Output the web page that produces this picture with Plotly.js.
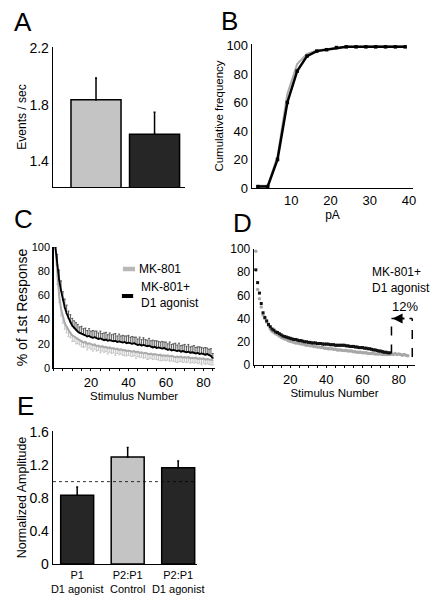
<!DOCTYPE html>
<html>
<head>
<meta charset="utf-8">
<script src="https://cdn.plot.ly/plotly-3.0.1.min.js"></script>
<style>html,body{margin:0;padding:0;background:#fff;}#plot{width:439px;height:602px;}</style>
</head>
<body>
<div id="plot"></div>
<script>
// ---- Panel A: event rate ----
const A_groups = ['MK-801', 'MK-801+D1 agonist'];
const A_rate = [1.835, 1.59];
const A_err = [0.155, 0.157];

// ---- Panel B: cumulative amplitude distribution ----
const B_pA = [1.5, 4, 6.5, 9, 11.5, 14, 16.5, 19, 21.5, 24, 26.5, 29, 31.5, 34, 36.5, 39];
const B_mk801 = [1.5, 1.5, 22, 66, 87, 94, 96.5, 97.5, 98.5, 99, 99, 99.5, 99.5, 99.5, 99.5, 99.5];
const B_mk801_d1 = [1, 1, 20, 60, 82, 92.5, 96, 97, 98.5, 99, 99, 99, 99, 99, 99, 99];

// ---- Panel C: mean % of 1st response (n = 85 stimuli) ----
const C_mk801 = [100,76,60,49,42,37,34,31,29,27, 26,25,24,23,22.5,21,21.5,20,20.5,19.5,
  19,19.5,18,18.5,17.5,18,17,17.5,16.5,17, 16,16.5,15.5,16,15,15.5,14.5,15,14,14.5,
  14,13.5,14,13,13.5,12.5,13,12,12.5,12, 11.5,12,11,11.5,11,10.5,11,10,10.5,10,
  10.5,9.5,10,9.5,9,9.5,9,9.5,8.5,9, 8.5,9,8,8.5,8,8.5,7.5,8,7.5,8, 7,7.5,7,6.5,6.5];
const C_mk801_err = [0,7,6,6,5,5,5,5,4,5, 4,5,4,4,5,4,4,5,4,4, 5,4,4,4,5,4,4,4,5,4,
  4,4,5,4,4,4,4,5,4,4, 4,4,4,5,4,4,4,4,4,5, 4,4,4,4,4,4,5,4,4,4, 4,4,4,4,4,5,4,4,4,4,
  4,4,4,4,4,4,4,4,5,4, 4,4,4,4,4];
const C_mk801_d1 = [100,85,73,64,56,50,45,41,38,35, 33,31.5,30,29,28.5,27.5,27,26,26.5,25.5,
  25,25.5,24.5,24,24.5,23.5,23,23.5,22.5,23, 22.5,22,22.5,21.5,22,21.5,21,21.5,20.5,21,
  20.5,20,20.5,19.5,19,19.5,18.5,19,18.5,18, 18.5,17.5,17,17.5,16.5,17,16.5,16,16.5,15.5,
  15,15.5,14.5,15,14.5,14,14.5,13.5,14,13.5, 13,13.5,12.5,13,12.5,12,12.5,11.5,12,11.5,
  11,11.5,10.5,10,8];
const C_mk801_d1_err = [0,9,8,8,7,7,7,6,6,6, 6,6,6,5,6,5,6,5,6,5, 6,5,6,5,6,5,6,6,5,6,
  5,6,6,5,6,5,6,5,6,6, 5,6,5,6,5,6,5,6,5,5, 6,5,6,5,6,5,5,6,5,6, 5,6,5,5,6,5,6,5,5,6,
  5,6,5,5,6,5,5,6,5,5, 6,5,5,6,4];

// ---- Panel D: example cell ----
const D_mk801 = [98,65,57,50,43,40,37,34,31,29, 28,27,26,25,24,23,22.5,22,21,20.5,
  20,19.5,19,19,18.5,18,18,17.5,17,17, 16.5,16.5,16,16,15.5,15.5,15,15,14.5,14.5,
  14,14,14,13.5,13.5,13,13,13,12.5,12.5, 12.5,12,12,12,11.5,11.5,11,11,11,10.5,
  10.5,10.5,10,10,10,10,9.5,9.5,9.5,9.5, 9,9,9,9,9,9.5,9,10,9,9.5, 9,8.5,9,8.5,8];
const D_mk801_d1 = [82,71,62,53,45,41,38,35,33,31, 30,28.5,28,27,26,25,24.5,24,23.5,23,
  22.5,22,22,21.5,21,21,20.5,20,20,19.5, 19.5,19,19,19,18.5,18.5,18.5,18,18,18,
  18,17.5,17.5,17.5,17,17,17,17,17,17, 16.5,16.5,16,16,16,15.5,15.5,15,15,15,
  14.5,14.5,14,14,13.5,13,13,12.5,12,12, 11.5,11,11,10.5,10.5];

// ---- Panel E: normalized amplitude ----
const E_labels = ['P1<br>D1 agonist', 'P2:P1<br>Control', 'P2:P1<br>D1 agonist'];
const E_amp = [0.836, 1.30, 1.17];
const E_err = [0.10, 0.114, 0.08];

const stimC = C_mk801.map((_, i) => i + 1);
const stimDg = D_mk801.map((_, i) => i + 1);
const stimDb = D_mk801_d1.map((_, i) => i + 1);
const zeros = n => new Array(n).fill(0);

const FONT = 'Liberation Sans, Arial, Helvetica, sans-serif';
const GREY = '#c4c4c4', DARK = '#262626';

const traces = [
  // A
  {type: 'bar', x: A_groups, y: A_rate, xaxis: 'x', yaxis: 'y', width: 0.855,
   marker: {color: [GREY, DARK], line: {color: '#000', width: 1.5}},
   error_y: {type: 'data', symmetric: false, array: A_err, arrayminus: zeros(A_err.length), color: '#000', thickness: 1.5, width: 1},
   showlegend: false},
  // B
  {type: 'scatter', mode: 'lines', x: B_pA, y: B_mk801, xaxis: 'x2', yaxis: 'y2',
   line: {color: '#aaaaaa', width: 2}, showlegend: false},
  {type: 'scatter', mode: 'lines+markers', x: B_pA, y: B_mk801_d1, xaxis: 'x2', yaxis: 'y2',
   line: {color: '#000', width: 2.5}, marker: {symbol: 'square', size: 3.5, color: '#000'}, showlegend: false},
  // C
  {type: 'scatter', mode: 'lines', x: stimC, y: C_mk801, xaxis: 'x3', yaxis: 'y3',
   line: {color: '#aaaaaa', width: 2},
   error_y: {type: 'data', symmetric: false, array: zeros(C_mk801.length), arrayminus: C_mk801_err, color: '#c4c4c4', thickness: 1, width: 1},
   showlegend: false},
  {type: 'scatter', mode: 'lines', x: stimC, y: C_mk801_d1, xaxis: 'x3', yaxis: 'y3',
   line: {color: '#000', width: 1.8},
   error_y: {type: 'data', symmetric: false, array: C_mk801_d1_err, arrayminus: zeros(C_mk801_d1.length), color: '#333', thickness: 0.8, width: 1},
   showlegend: false},
  // D
  {type: 'scatter', mode: 'markers', x: stimDg, y: D_mk801, xaxis: 'x4', yaxis: 'y4',
   marker: {symbol: 'circle', size: 3.5, color: '#a8a8a8'}, showlegend: false},
  {type: 'scatter', mode: 'markers', x: stimDb, y: D_mk801_d1, xaxis: 'x4', yaxis: 'y4',
   marker: {symbol: 'square', size: 3, color: '#111'}, showlegend: false},
  // E
  {type: 'bar', x: E_labels, y: E_amp, xaxis: 'x5', yaxis: 'y5', width: 0.653,
   marker: {color: [DARK, GREY, DARK], line: {color: '#000', width: 1.5}},
   error_y: {type: 'data', symmetric: false, array: E_err, arrayminus: zeros(E_err.length), color: '#000', thickness: 1.5, width: 1},
   showlegend: false}
];

const axBase = {showline: true, linecolor: '#000', linewidth: 1.3, showgrid: false, zeroline: false,
  ticks: '', tickfont: {family: FONT, size: 13, color: '#000'}, fixedrange: true};
const ttl = (t, size, standoff) => ({text: t, font: {family: FONT, size: size, color: '#000'}, standoff: standoff});

const layout = {
  width: 439, height: 602, autosize: false,
  margin: {l: 0, r: 0, t: 0, b: 0},
  paper_bgcolor: '#fff', plot_bgcolor: 'rgba(0,0,0,0)',
  font: {family: FONT, color: '#000'},
  showlegend: false,
  // A
  xaxis: Object.assign({}, axBase, {domain: [0.1207, 0.4214], anchor: 'y', type: 'category', range: [-0.735, 1.52], showticklabels: false}),
  yaxis: Object.assign({}, axBase, {domain: [0.6894, 0.9219], anchor: 'x', range: [1.216, 2.21], tickvals: [1.4, 1.8, 2.2], ticktext: ['1.4', '1.8', '2.2'], tickfont: {family: FONT, size: 14}, title: ttl('Events / sec', 12, 0)}),
  // B
  xaxis2: Object.assign({}, axBase, {domain: [0.5740, 0.9408], anchor: 'y2', range: [0, 41], tickvals: [10, 20, 30, 40], title: ttl('pA', 12, 1)}),
  yaxis2: Object.assign({}, axBase, {domain: [0.6877, 0.9269], anchor: 'x2', range: [0, 101], tickvals: [0, 20, 40, 60, 80, 100], title: ttl('Cumulative frequency', 11.5, 0)}),
  // C
  xaxis3: Object.assign({}, axBase, {domain: [0.1219, 0.4890], anchor: 'y3', range: [0, 86], tickvals: [20, 40, 60, 80], ticks: 'outside', ticklen: 2, tickcolor: '#000',
    minor: {dtick: 5, tick0: 0, ticks: 'outside', ticklen: 2, tickcolor: '#000'}, title: ttl('Stimulus Number', 11.5, 2)}),
  yaxis3: Object.assign({}, axBase, {domain: [0.3887, 0.5897], anchor: 'x3', range: [0, 100], tickvals: [0, 20, 40, 60, 80, 100], tickfont: {family: FONT, size: 11}, title: ttl('% of 1st Response', 14, 0)}),
  // D
  xaxis4: Object.assign({}, axBase, {domain: [0.5786, 0.9453], anchor: 'y4', range: [0, 89], tickvals: [20, 40, 60, 80], ticks: 'outside', ticklen: 2, tickcolor: '#000',
    minor: {dtick: 5, tick0: 0, ticks: 'outside', ticklen: 2, tickcolor: '#000'}, title: ttl('Stimulus Number', 11.5, 2)}),
  yaxis4: Object.assign({}, axBase, {domain: [0.3937, 0.5864], anchor: 'x4', range: [0, 100], tickvals: [0, 20, 40, 60, 80, 100], tickfont: {family: FONT, size: 12}}),
  // E
  xaxis5: Object.assign({}, axBase, {domain: [0.1207, 0.4487], anchor: 'y5', type: 'category', range: [-0.479, 2.372], tickfont: {family: FONT, size: 11}}),
  yaxis5: Object.assign({}, axBase, {domain: [0.0631, 0.2841], anchor: 'x5', range: [0, 1.615], tickvals: [0, 0.4, 0.8, 1.2, 1.6], ticktext: ['0', '0.4', '0.8', '1.2', '1.6'], tickfont: {family: FONT, size: 14}, title: ttl('Normalized Amplitude', 12.5, 0)}),
  shapes: [
    // E reference line at 1.0
    {type: 'line', xref: 'x5 domain', yref: 'y5', x0: 0, x1: 1, y0: 1.0, y1: 1.0, line: {color: '#000', width: 0.8, dash: 'dot'}},
    // C legend swatches
    {type: 'line', xref: 'x3', yref: 'y3', x0: 37, x1: 43.5, y0: 81.8, y1: 81.8, line: {color: '#b8b8b8', width: 4.5}},
    {type: 'line', xref: 'x3', yref: 'y3', x0: 36.5, x1: 42.5, y0: 59.5, y1: 59.5, line: {color: '#000', width: 4}},
    // D bracket
    {type: 'line', xref: 'x4', yref: 'y4', x0: 76, x1: 76, y0: 10, y1: 40, line: {color: '#000', width: 1.5, dash: 'dash'}},
    {type: 'line', xref: 'x4', yref: 'y4', x0: 87.5, x1: 87.5, y0: 7, y1: 40, line: {color: '#000', width: 1.5, dash: 'dash'}},
    {type: 'line', xref: 'x4', yref: 'y4', x0: 76, x1: 87.5, y0: 40, y1: 40, line: {color: '#000', width: 1.5, dash: 'dash'}}
  ],
  annotations: [
    {text: 'A', xref: 'paper', yref: 'paper', x: 22.5 / 439, y: 1 - 22 / 602, xanchor: 'center', yanchor: 'middle', showarrow: false, font: {family: FONT, size: 26}},
    {text: 'B', xref: 'paper', yref: 'paper', x: 229 / 439, y: 1 - 20.5 / 602, xanchor: 'center', yanchor: 'middle', showarrow: false, font: {family: FONT, size: 26}},
    {text: 'C', xref: 'paper', yref: 'paper', x: 23 / 439, y: 1 - 219 / 602, xanchor: 'center', yanchor: 'middle', showarrow: false, font: {family: FONT, size: 26}},
    {text: 'D', xref: 'paper', yref: 'paper', x: 242.5 / 439, y: 1 - 223 / 602, xanchor: 'center', yanchor: 'middle', showarrow: false, font: {family: FONT, size: 26}},
    {text: 'E', xref: 'paper', yref: 'paper', x: 25 / 439, y: 1 - 406 / 602, xanchor: 'center', yanchor: 'middle', showarrow: false, font: {family: FONT, size: 26}},
    // C legend text
    {text: 'MK-801', xref: 'x3', yref: 'y3', x: 44.5, y: 81.8, xanchor: 'left', yanchor: 'middle', showarrow: false, font: {family: FONT, size: 12}},
    {text: 'MK-801+<br>D1 agonist', xref: 'x3', yref: 'y3', x: 45.5, y: 60.5, xanchor: 'left', yanchor: 'middle', showarrow: false, align: 'left', font: {family: FONT, size: 12}},
    // D labels
    {text: 'MK-801+<br>D1 agonist', xref: 'x4', yref: 'y4', x: 81, y: 73.5, xanchor: 'center', yanchor: 'middle', showarrow: false, align: 'left', font: {family: FONT, size: 12}},
    {text: '12%', xref: 'x4', yref: 'y4', x: 83.5, y: 50, xanchor: 'center', yanchor: 'middle', showarrow: false, font: {family: FONT, size: 13}},
    {text: '', xref: 'x4', yref: 'y4', x: 76.6, y: 40, axref: 'x4', ayref: 'y4', ax: 84, ay: 40, showarrow: true, arrowhead: 2, arrowsize: 1, arrowwidth: 2, arrowcolor: '#000'}
  ]
};

Plotly.newPlot('plot', traces, layout, {staticPlot: true, displayModeBar: false});
</script>
</body>
</html>
